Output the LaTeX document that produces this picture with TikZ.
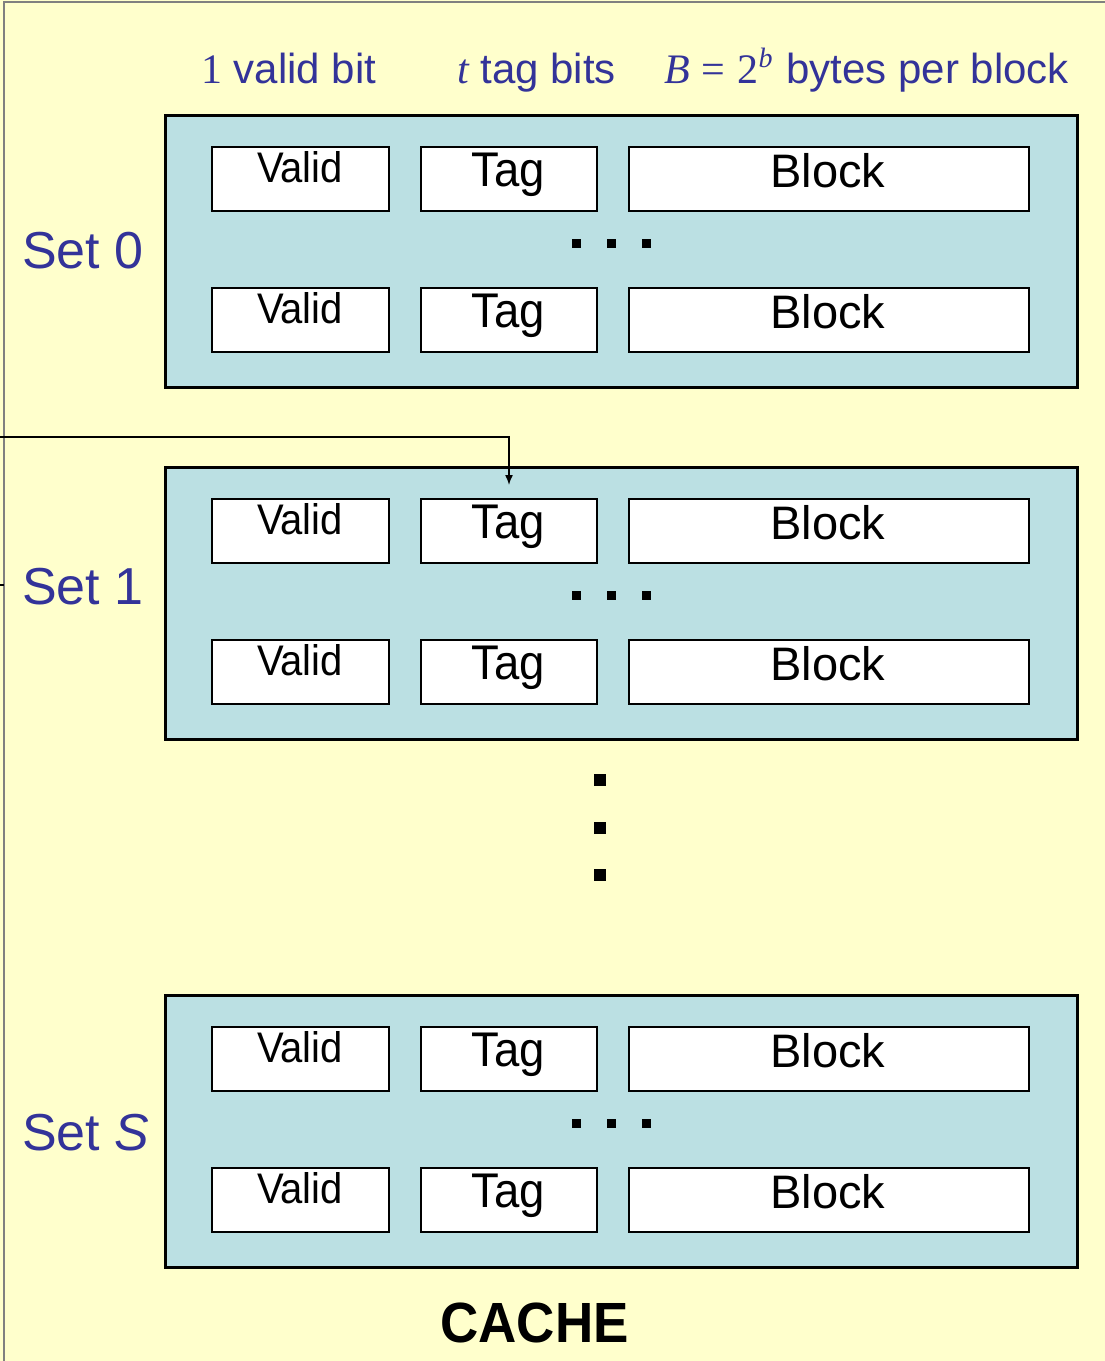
\documentclass[tikz,border=0pt]{standalone}
\usepackage{fontspec}
\setmainfont{Liberation Sans}
\newfontfamily\serf{Liberation Serif}
\usetikzlibrary{arrows.meta}
\definecolor{bg}{HTML}{FFFFCC}
\definecolor{setfill}{HTML}{BBE0E3}
\definecolor{lbl}{HTML}{333399}
\definecolor{framegray}{HTML}{808080}
\newcommand{\tallx}[1]{\scalebox{1}[1.07]{#1}}
\begin{document}
\begin{tikzpicture}[x=1pt,y=-1pt,
  setbox/.style={draw=black,line width=2.6pt,fill=setfill,inner sep=0pt,minimum width=912pt,minimum height=272pt,anchor=north west},
  cell/.style={draw=black,line width=2pt,fill=white,inner sep=0pt,minimum height=64pt,anchor=north west},
  celltxt/.style={anchor=base,inner sep=0pt,text=black},
  dotsq/.style={fill=black,inner sep=0pt,minimum size=9pt},
  vdot/.style={fill=black,inner sep=0pt,minimum size=12pt},
  setlbl/.style={anchor=base west,inner sep=0pt,text=lbl,font=\fontsize{52}{60}\selectfont},
  toplbl/.style={anchor=base west,inner sep=0pt,text=lbl,font=\fontsize{42}{50}\selectfont},
  conn/.style={draw=black,line width=1.5pt}
]
\fill[bg] (0,0) rectangle (1105,1361);
\useasboundingbox (0,0) rectangle (1105,1361);
\draw[framegray,line width=2.5pt] (4,1361) -- (4,2) -- (1105,2);

% top labels
\node[toplbl] (lv) at (201,83) {{\serf 1} valid bit};
\node[toplbl] (lt) at (457,83) {{\serf\itshape t} tag bits};
\node[toplbl] (lb) at (664,83) {{\serf\itshape B}\hspace{12pt}{\serf =}\hspace{12pt}{\serf 2\raisebox{16pt}{\fontsize{28}{30}\selectfont\itshape b}}\hspace{14pt}bytes per block};

% sets
\foreach \s/\t in {0/114,1/466,S/994} {
  \node[setbox] (set\s) at (164,\t) {};
  \foreach \r/\dy in {a/32,b/173} {
    \node[cell,minimum width=177pt] (v\r\s) at (211,\t+\dy) {};
    \node[cell,minimum width=176pt] (t\r\s) at (420,\t+\dy) {};
    \node[cell,minimum width=400pt] (b\r\s) at (628,\t+\dy) {};
    \node[celltxt,font=\fontsize{40}{48}\selectfont] (vt\r\s) at (300,\t+\dy+36.5) {\tallx{Valid}};
    \node[celltxt,font=\fontsize{45.5}{52}\selectfont] (tt\r\s) at (508.5,\t+\dy+40.5) {\tallx{Tag}};
    \node[celltxt,font=\fontsize{47}{54}\selectfont] (bt\r\s) at (828,\t+\dy+41) {Block};
  }
  \node[dotsq] (da\s) at (576.5,\t+129.5) {};
  \node[dotsq] (db\s) at (611.5,\t+129.5) {};
  \node[dotsq] (dc\s) at (646.5,\t+129.5) {};
}

% vertical dots
\node[vdot] (vd1) at (600,780) {};
\node[vdot] (vd2) at (600,828) {};
\node[vdot] (vd3) at (600,875) {};

% set labels
\node[setlbl] (l0) at (22,268) {Set 0};
\node[setlbl] (l1) at (22,604) {Set 1};
\node[setlbl] (lS) at (22,1150) {Set \textit{S}};

% title
\node[anchor=base,inner sep=0pt,font=\bfseries\fontsize{53}{60}\selectfont] (cache) at (534.5,1342) {\tallx{CACHE}};

% connectors
\coordinate (inA) at (0,437);
\draw[conn,-{Latex[length=10pt,width=8pt]}] (inA) -| ([yshift=13pt]ta1.north);
\coordinate (inB) at (0,585);
\coordinate (inBe) at (4,585);
\draw[conn] (inB) -- (inBe);
\end{tikzpicture}
\end{document}
